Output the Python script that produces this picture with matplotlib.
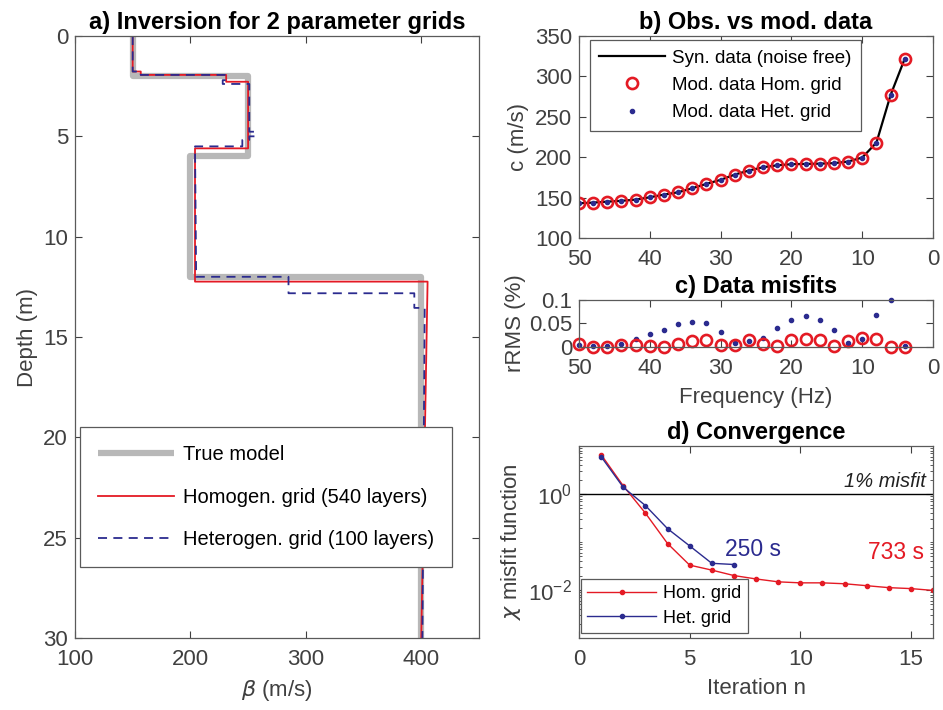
import numpy as np
import matplotlib
matplotlib.use("Agg")
import matplotlib.pyplot as plt
from matplotlib.ticker import LogLocator, NullFormatter, FixedLocator

plt.rcParams['font.family'] = ['Liberation Sans', 'DejaVu Sans']
plt.rcParams['mathtext.fontset'] = 'dejavusans'

''' data '''
# a) velocity profiles (vertices of the step curves)
true_depth = [0, 2, 2, 6, 6, 12, 12, 30]
true_beta = [150, 150, 250, 250, 200, 200, 400, 400]

hom_depth = [0, 1.77, 1.77, 1.94, 1.94, 2.28, 2.28, 5.6, 5.6, 12.24, 12.24, 30]
hom_beta = [150, 150, 157, 157, 231, 231, 250, 250, 204, 204, 405.5, 400]

het_depth = [0, 1.77, 1.77, 1.94, 1.94, 2.2, 2.2, 2.39, 2.39, 4.77, 4.77, 5.0, 5.0,
             5.18, 5.18, 5.5, 5.5, 12.0, 12.0, 12.82, 12.82, 13.55, 13.55, 30]
het_beta = [150, 150, 157, 157, 231, 231, 228, 228, 251, 251, 256, 256, 251,
            251, 245, 245, 204, 205, 285, 285, 394, 394, 403, 401]

# b) dispersion curve
freq = [50, 48, 46, 44, 42, 40, 38, 36, 34, 32, 30, 28, 26, 24, 22, 20, 18, 16, 14, 12, 10, 8, 6, 4]
c_syn = [143, 143.8, 145, 146, 147.5, 150.4, 153.7, 156.6, 161.6, 167, 172, 178.5,
         183.5, 187.6, 190, 191.3, 191.7, 192, 192.6, 194.6, 199.6, 218, 277, 322]

# c) misfits (%)
rms_hom = [0.006, 0.001, 0.001, 0.004, 0.005, 0.003, 0.001, 0.006, 0.012, 0.014, 0.004, 0.005,
           0.014, 0.007, 0.002, 0.014, 0.018, 0.015, 0.003, 0.013, 0.020, 0.016, 0.001, 0.0]
rms_het = [0.005, 0.002, 0.003, 0.007, 0.017, 0.027, 0.037, 0.048, 0.054, 0.050, 0.031, 0.009,
           0.012, 0.020, 0.041, 0.058, 0.065, 0.057, 0.036, 0.009, 0.016, 0.069, 0.101, 0.003]

# d) convergence
it_hom = list(range(1, 17))
chi_hom = [6.6, 1.48, 0.40, 0.093, 0.033, 0.026, 0.020, 0.017, 0.0148, 0.0141,
           0.0141, 0.0135, 0.0123, 0.0112, 0.0107, 0.0098]
it_het = list(range(1, 8))
chi_het = [6.0, 1.38, 0.575, 0.19, 0.083, 0.036, 0.034]

RED = '#e41a24'
BLUE = '#2b2b8f'
GREY = '#b8b8b8'
TXT = '#404040'
FS = 16
TFS = 17


def style(ax):
    ax.tick_params(direction='in', top=True, right=True, labelsize=FS, colors=TXT,
                   length=5, width=0.8)
    ax.tick_params(axis='x', pad=8)
    ax.tick_params(axis='y', pad=5)
    for s in ax.spines.values():
        s.set_color('#5a5a5a')
        s.set_linewidth(0.9)


fig = plt.figure(figsize=(9.43, 7.10), dpi=100)

''' a) profiles '''
ax = fig.add_axes([0.0795, 0.1014, 0.4284, 0.8479])
ax.plot(true_beta, true_depth, color=GREY, lw=4.5, solid_capstyle='butt', label='True model')
ax.plot(hom_beta, hom_depth, color=RED, lw=1.3, label='Homogen. grid (540 layers)')
ax.plot(het_beta, het_depth, color=BLUE, lw=1.3, dashes=(5, 3.5), label='Heterogen. grid (100 layers)')
ax.set_xlim(100, 450)
ax.set_ylim(30, 0)
ax.set_xticks([100, 200, 300, 400])
ax.set_yticks(range(0, 31, 5))
ax.set_xlabel(r'$\beta$ (m/s)', fontsize=FS, color=TXT, labelpad=6)
ax.set_ylabel('Depth (m)', fontsize=FS, color=TXT, labelpad=4)
ax.set_title('a) Inversion for 2 parameter grids', fontsize=TFS, fontweight='bold', pad=5)
style(ax)
leg = ax.legend(loc='upper left', bbox_to_anchor=(0.012, 0.35), borderaxespad=0,
                fontsize=14.5, handlelength=3.8, labelspacing=1.15, borderpad=0.9,
                handletextpad=0.4, fancybox=False, framealpha=1, edgecolor='#5a5a5a')
leg.get_frame().set_linewidth(0.9)

''' b) obs vs mod '''
ax = fig.add_axes([0.614, 0.6648, 0.3755, 0.2845])
ax.plot(freq, c_syn, color='k', lw=1.6, label='Syn. data (noise free)')
ax.plot(freq, c_syn, 'o', ms=8, mfc='none', mec=RED, mew=1.9, label='Mod. data Hom. grid')
ax.plot(freq, c_syn, '.', ms=6, color=BLUE, label='Mod. data Het. grid')
ax.set_xlim(50, 0)
ax.set_ylim(100, 350)
ax.set_xticks(range(0, 51, 10))
ax.set_yticks(range(100, 351, 50))
ax.set_ylabel('c (m/s)', fontsize=FS, color=TXT, labelpad=4)
ax.set_title('b) Obs. vs mod. data', fontsize=TFS, fontweight='bold', pad=5)
style(ax)
leg = ax.legend(loc='upper left', bbox_to_anchor=(0.031, 0.98), borderaxespad=0,
                fontsize=13.5, handlelength=3.5, labelspacing=0.55, borderpad=0.5,
                handletextpad=0.4, fancybox=False, framealpha=1, edgecolor='#5a5a5a')
leg.get_frame().set_linewidth(0.9)

''' c) misfits '''
ax = fig.add_axes([0.614, 0.5113, 0.3755, 0.0662])
ax.plot(freq, rms_het, '.', ms=6, color=BLUE, clip_on=False)
ax.plot(freq, rms_hom, 'o', ms=8, mfc='none', mec=RED, mew=1.9, clip_on=False)
ax.set_xlim(50, 0)
ax.set_ylim(0, 0.1)
ax.set_xticks(range(0, 51, 10))
ax.set_yticks([0, 0.05, 0.1])
ax.set_yticklabels(['0', '0.05', '0.1'])
ax.set_xlabel('Frequency (Hz)', fontsize=FS, color=TXT, labelpad=6)
ax.set_ylabel('rRMS (%)', fontsize=FS, color=TXT, labelpad=2)
ax.set_title('c) Data misfits', fontsize=TFS, fontweight='bold', pad=5)
style(ax)

''' d) convergence '''
ax = fig.add_axes([0.614, 0.1014, 0.3755, 0.2704])
ax.axhline(1, color='k', lw=1)
ax.plot(it_hom, chi_hom, '.-', color=RED, lw=1, ms=6, label='Hom. grid')
ax.plot(it_het, chi_het, '.-', color=BLUE, lw=1, ms=6, label='Het. grid')
ax.set_yscale('log')
ax.set_xlim(0, 16)
ax.set_ylim(1e-3, 1e1)
ax.set_xticks([0, 5, 10, 15])
ax.yaxis.set_major_locator(FixedLocator([1e-2, 1e0]))
ax.yaxis.set_minor_locator(LogLocator(base=10, subs=np.arange(1, 10), numticks=20))
ax.yaxis.set_minor_formatter(NullFormatter())
ax.set_xlabel('Iteration n', fontsize=FS, color=TXT, labelpad=6)
ax.set_ylabel(r'$\chi$ misfit function', fontsize=FS, color=TXT, labelpad=4)
ax.set_title('d) Convergence', fontsize=TFS, fontweight='bold', pad=5)
style(ax)
ax.tick_params(which='minor', direction='in', right=True, length=2.5, width=0.6, colors=TXT)
ax.text(15.68, 1.8, '1% misfit', fontsize=14.5, style='italic', ha='right', va='center', color='#222222')
ax.text(6.59, 0.0714, '250 s', fontsize=16.5, color=BLUE, ha='left', va='center')
ax.text(15.58, 0.061, '733 s', fontsize=16.5, color=RED, ha='right', va='center')
leg = ax.legend(loc='lower left', bbox_to_anchor=(0.006, 0.026), borderaxespad=0,
                fontsize=13, handlelength=3.8, labelspacing=0.4, borderpad=0.35,
                handletextpad=0.4, fancybox=False, framealpha=1, edgecolor='#5a5a5a')
leg.get_frame().set_linewidth(0.9)

plt.savefig('out.png', dpi=100)
